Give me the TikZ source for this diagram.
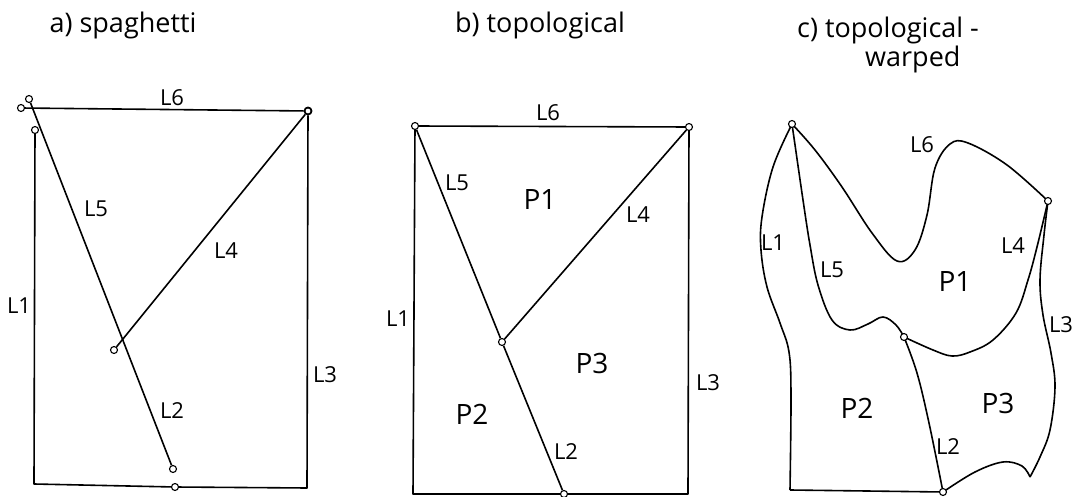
\documentclass[tikz,border=0pt]{standalone}
\usepackage{fontspec}
\setmainfont{Open Sans}
\usepackage{tikz}
\usetikzlibrary{positioning}

\begin{document}
\begin{tikzpicture}[
  x=1pt, y=-1pt,
  vertex/.style={circle, draw, fill=white, inner sep=0pt,
                 minimum size=7pt, line width=1.1pt},
  edge/.style={line width=1.6pt, line join=round},
  lbl/.style={font=\fontsize{22}{24}\selectfont, inner sep=0pt},
  poly/.style={font=\fontsize{28}{30}\selectfont, inner sep=0pt},
  heading/.style={font=\fontsize{27}{30}\selectfont, inner sep=0pt}
]
\useasboundingbox (0,0) rectangle (1072,497);

% a) spaghetti
\node[heading, anchor=base] (ta) at (123,33) {a) spaghetti};
\node[vertex] (a6l) at (21,108) {};
\node[vertex] (a5t) at (29,99) {};
\node[vertex] (a1t) at (35,130) {};
\node[vertex, line width=1.8pt] (atr) at (308,111) {};
\node[vertex] (a4e) at (114,350) {};
\node[vertex] (a2e) at (173,469) {};
\node[vertex] (abm) at (175,487) {};
\coordinate (abl) at (34,484);
\coordinate (abr) at (307,488);
\draw[edge] (a6l) -- (atr);
\draw[edge] (a5t) -- (a2e);
\draw[edge] (atr) -- (a4e);
\draw[edge] (a1t) -- (abl) -- (abm);
\draw[edge] (abm) -- (abr) -- (atr);
\node[lbl] (la6) at (172,98) {L6};
\node[lbl] (la5) at (96,209) {L5};
\node[lbl] (la4) at (226,251) {L4};
\node[lbl] (la1) at (19,306) {L1};
\node[lbl] (la2) at (172,411) {L2};
\node[lbl] (la3) at (325,375) {L3};

% b) topological
\node[heading, anchor=base] (tb) at (540,33) {b) topological};
\node[vertex] (btl) at (415,126) {};
\node[vertex] (btr) at (689,127) {};
\node[vertex] (bmid) at (502,342) {};
\node[vertex] (bbot) at (564,494) {};
\coordinate (bbl) at (413,494);
\coordinate (bbr) at (688,494);
\draw[edge] (btl) -- (btr);
\draw[edge] (btl) -- (bmid);
\draw[edge] (btr) -- (bmid);
\draw[edge] (bmid) -- (bbot);
\draw[edge] (btl) -- (bbl) -- (bbot);
\draw[edge] (bbot) -- (bbr) -- (btr);
\node[lbl] (lb6) at (548,113) {L6};
\node[lbl] (lb5) at (457,183) {L5};
\node[lbl] (lb4) at (638,215) {L4};
\node[lbl] (lb1) at (398,319) {L1};
\node[lbl] (lb2) at (566,452) {L2};
\node[lbl] (lb3) at (708,383) {L3};
\node[poly] (pb1) at (540,200) {P1};
\node[poly] (pb2) at (472,414) {P2};
\node[poly] (pb3) at (592,363) {P3};

% c) topological - warped
\node[heading, anchor=base west] (tc) at (797,38) {c) topological -};
\node[heading, anchor=base west] (tcw) at (865,67) {warped};
\coordinate (cA) at (792,124);
\coordinate (cB) at (1048,201);
\coordinate (cC) at (904,337);
\coordinate (cD) at (943,492);
\coordinate (cbl) at (790,490);
\coordinate (ctip) at (1030,477);
% L6
\draw[edge] plot[smooth, tension=0.6] coordinates {(cA) (815,150) (842,187)
  (872,233) (897,261) (915,250) (927,215) (935,168) (950,144) (968,143)
  (1007,165) (cB)};
% L1
\draw[edge] plot[smooth, tension=0.6] coordinates {(cA) (773,167) (762,217)
  (761,250) (767,287) (780,323) (789,352) (791,395) (cbl)};
\draw[edge] (cbl) -- (cD);
% L5
\draw[edge] plot[smooth, tension=0.6] coordinates {(cA) (803,200) (810,245)
  (818,285) (832,320) (850,330) (868,324) (883,317) (896,325) (cC)};
% L4
\draw[edge] plot[smooth, tension=0.6] coordinates {(cB) (1037,247) (1028,280)
  (1016,313) (993,340) (970,352) (952,356) (933,350) (cC)};
% L3
\draw[edge] plot[smooth, tension=0.6] coordinates {(cB) (1044,235) (1040,280)
  (1043,315) (1051,353) (1055,387) (1050,430) (1040,457) (ctip)};
\draw[edge] plot[smooth, tension=0.6] coordinates {(ctip) (1022,466)
  (1003,462) (975,472) (cD)};
% L2
\draw[edge] plot[smooth, tension=0.6] coordinates {(cC) (917,373) (929,423) (cD)};
\foreach \p in {cA,cB,cC,cD}
  \node[vertex] (\p v) at (\p) {};
\node[lbl] (lc6) at (922,145) {L6};
\node[lbl] (lc1) at (773,243) {L1};
\node[lbl] (lc5) at (832,270) {L5};
\node[lbl] (lc4) at (1013,246) {L4};
\node[lbl] (lc3) at (1061,325) {L3};
\node[lbl] (lc2) at (948,447) {L2};
\node[poly] (pc1) at (955,282) {P1};
\node[poly] (pc2) at (857,408) {P2};
\node[poly] (pc3) at (998,403) {P3};
\end{tikzpicture}
\end{document}
